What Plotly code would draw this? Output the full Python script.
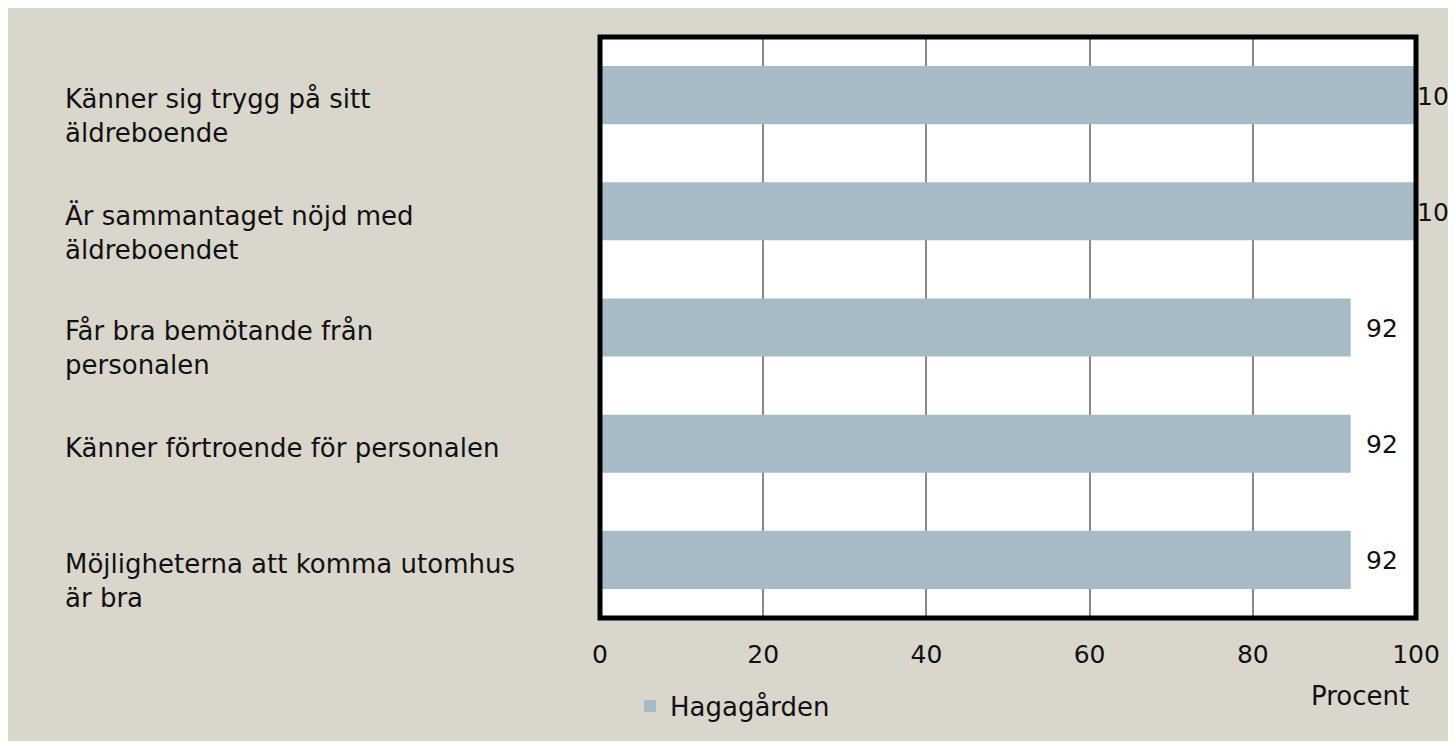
import plotly.graph_objects as go

categories = [
    "Känner sig trygg på sitt<br>äldreboende",
    "Är sammantaget nöjd med<br>äldreboendet",
    "Får bra bemötande från<br>personalen",
    "Känner förtroende för personalen",
    "Möjligheterna att komma utomhus<br>är bra",
]
values = [100, 100, 92, 92, 92]
series_name = "Hagagården"
x_ticks = [0, 20, 40, 60, 80, 100]
x_title = "Procent"

FONT = "DejaVu Sans"
BAR = "#A7BBC6"
BEIGE = "#D9D7CB"
TXT = "#111111"

W, H = 1456, 741
OFF = 8  # page body margin
L, R, T, B = 592, 48, 29, 131
pw, ph = W - L - R, H - T - B

def px_x(p):  # window pixel -> paper x
    return (p - OFF - L) / pw

def px_y(p):  # window pixel -> paper y
    return (H - B - (p - OFF)) / ph

fig = go.Figure()
fig.add_trace(go.Bar(
    x=values, y=categories, orientation="h", name=series_name,
    marker=dict(color=BAR, line=dict(width=0)),
    showlegend=True,
))

annotations = []
lh = 26 * 1.3
for c in categories:
    n = c.count("<br>")
    annotations.append(dict(
        x=px_x(63), xref="paper", y=c, yref="y", text=c, showarrow=False,
        xanchor="left", yanchor="middle", align="left",
        yshift=-(n * lh / 2) - 4,
        font=dict(family=FONT, size=26, color=TXT),
    ))
for c, v in zip(categories, values):
    annotations.append(dict(
        x=v, xref="x", y=c, yref="y", text=str(v), showarrow=False,
        xanchor="left", yanchor="middle", xshift=13 if v < 100 else -1, yshift=-1,
        font=dict(family=FONT, size=25, color=TXT),
    ))
annotations.append(dict(
    x=px_x(1360), xref="paper", y=px_y(696), yref="paper", text=x_title,
    showarrow=False, xanchor="center", yanchor="middle",
    font=dict(family=FONT, size=26, color=TXT),
))

fig.update_layout(
    width=W, height=H,
    margin=dict(l=L, r=R, t=T, b=B, pad=0),
    paper_bgcolor=BEIGE, plot_bgcolor="white",
    bargap=0.5,
    xaxis=dict(
        range=[0, 100], tickvals=x_ticks, showgrid=True, gridcolor="#8A8A8A",
        gridwidth=1.5, zeroline=False, showline=False, ticks="",
        ticklabelstandoff=19,
        tickfont=dict(family=FONT, size=25, color=TXT),
    ),
    yaxis=dict(
        autorange="reversed", showticklabels=False, showgrid=False,
        zeroline=False, showline=False, ticks="",
    ),
    legend=dict(
        orientation="h", x=px_x(630), xanchor="left", y=px_y(706), yanchor="middle",
        bgcolor="rgba(0,0,0,0)", font=dict(family=FONT, size=26, color=TXT),
    ),
    annotations=annotations,
    shapes=[
        dict(type="rect", xref="paper", yref="paper", x0=0, x1=1, y0=0, y1=1,
             line=dict(color="black", width=5), layer="above"),
    ],
)

fig.write_html("out.html")
